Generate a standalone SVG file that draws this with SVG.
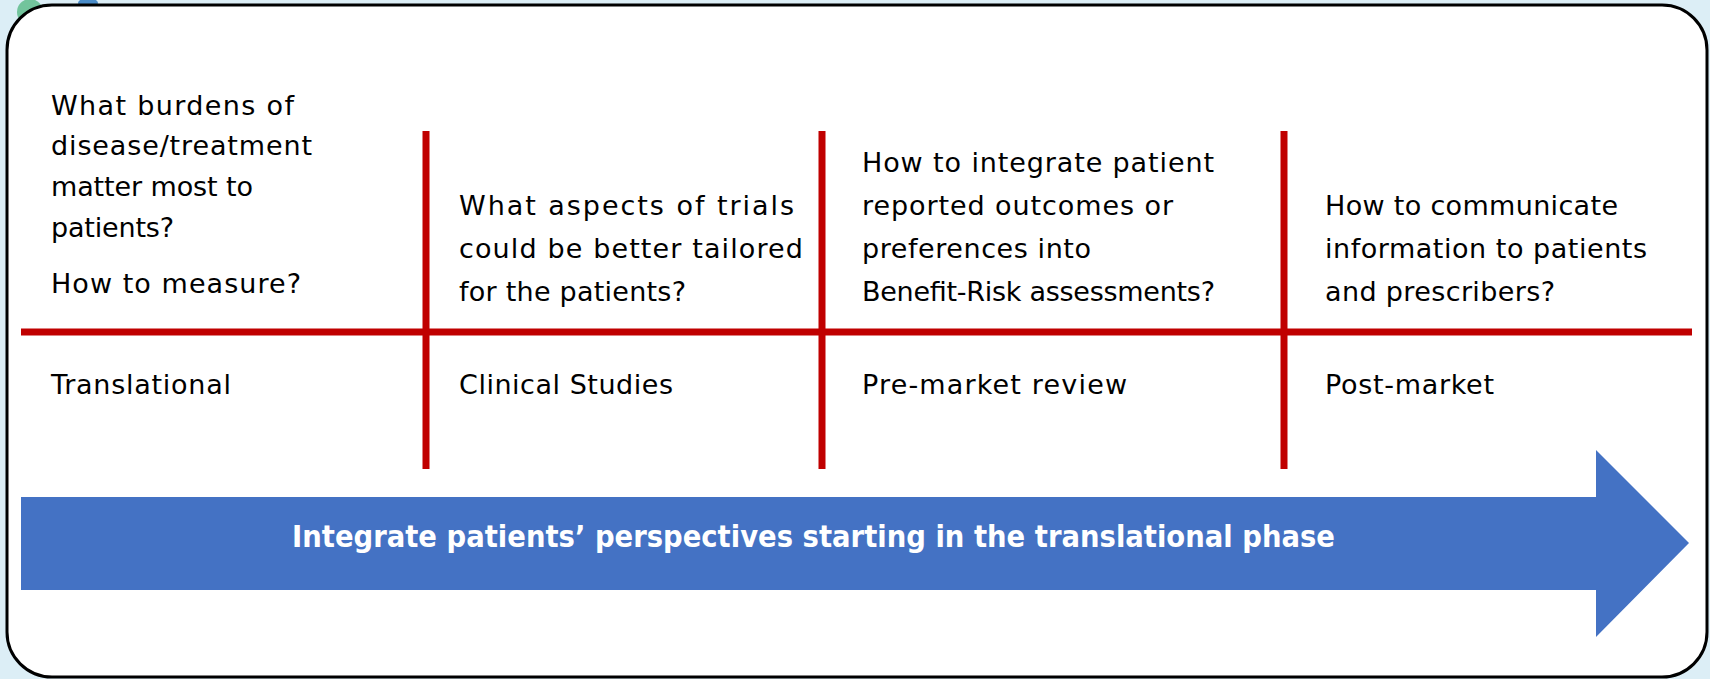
<svg xmlns="http://www.w3.org/2000/svg" width="1710" height="679" viewBox="0 0 1710 679">
<style>
.t{font-family:"Century Gothic","DejaVu Sans","Liberation Sans",sans-serif;font-size:27px;fill:#000}
.a{font-family:"Century Gothic","DejaVu Sans","Liberation Sans",sans-serif;font-size:30px;font-weight:bold;fill:#fff}
.r{stroke:#C00000;stroke-width:7;fill:none}
</style>
<rect width="1710" height="679" fill="#DCEEF6"/>
<circle cx="30" cy="12" r="13" fill="#72C49C"/>
<ellipse cx="88" cy="3" rx="10" ry="5" fill="#4A8CC8"/>
<rect id="frame" x="7" y="5" width="1700" height="672" rx="45" ry="45" fill="#fff" stroke="#000" stroke-width="3"/>
<g id="connectors">
<line class="r" x1="21" y1="332" x2="1692" y2="332"/>
<line class="r" x1="426" y1="131" x2="426" y2="469"/>
<line class="r" x1="822" y1="131" x2="822" y2="469"/>
<line class="r" x1="1284" y1="131" x2="1284" y2="469"/>
</g>
<g id="arrow">
<polygon points="21,497 1596,497 1596,450 1689,543 1596,637 1596,590 21,590" fill="#4472C4"/>
<text class="a" x="292" y="547" textLength="1043" lengthAdjust="spacingAndGlyphs">Integrate patients’ perspectives starting in the translational phase</text>
</g>
<g id="translational">
<text class="t" x="51" y="115" textLength="243" lengthAdjust="spacing">What burdens of</text>
<text class="t" x="51" y="155" textLength="261" lengthAdjust="spacing">disease/treatment</text>
<text class="t" x="51" y="196" textLength="202" lengthAdjust="spacing">matter most to</text>
<text class="t" x="51" y="237" textLength="123" lengthAdjust="spacing">patients?</text>
<text class="t" x="51" y="293" textLength="250" lengthAdjust="spacing">How to measure?</text>
<text class="t" x="51" y="394" textLength="180" lengthAdjust="spacing">Translational</text>
</g>
<g id="clinical">
<text class="t" x="459" y="215" textLength="335" lengthAdjust="spacing">What aspects of trials</text>
<text class="t" x="459" y="258" textLength="344" lengthAdjust="spacing">could be better tailored</text>
<text class="t" x="459" y="301" textLength="227" lengthAdjust="spacing">for the patients?</text>
<text class="t" x="459" y="394" textLength="214" lengthAdjust="spacing">Clinical Studies</text>
</g>
<g id="premarket">
<text class="t" x="862" y="172" textLength="352" lengthAdjust="spacing">How to integrate patient</text>
<text class="t" x="862" y="215" textLength="311" lengthAdjust="spacing">reported outcomes or</text>
<text class="t" x="862" y="258" textLength="229" lengthAdjust="spacing">preferences into</text>
<text class="t" x="862" y="301" textLength="353" lengthAdjust="spacing">Benefit-Risk assessments?</text>
<text class="t" x="862" y="394" textLength="265" lengthAdjust="spacing">Pre-market review</text>
</g>
<g id="postmarket">
<text class="t" x="1325" y="215" textLength="293" lengthAdjust="spacing">How to communicate</text>
<text class="t" x="1325" y="258" textLength="322" lengthAdjust="spacing">information to patients</text>
<text class="t" x="1325" y="301" textLength="230" lengthAdjust="spacing">and prescribers?</text>
<text class="t" x="1325" y="394" textLength="169" lengthAdjust="spacing">Post-market</text>
</g>
</svg>
